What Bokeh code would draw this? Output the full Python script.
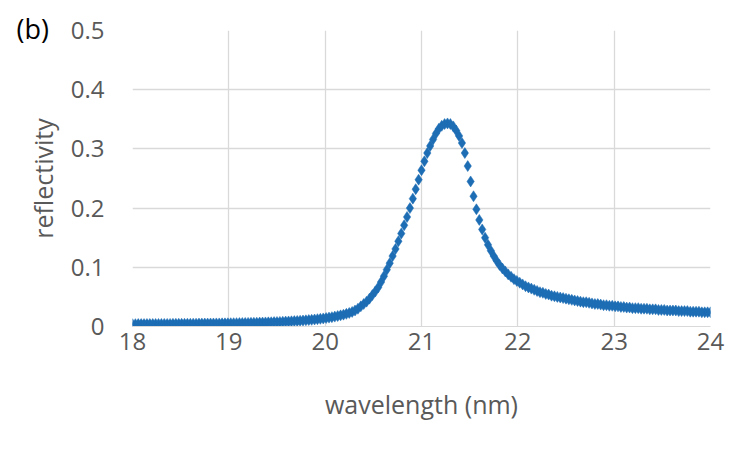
from bokeh.plotting import figure
from bokeh.models import ColumnDataSource, FixedTicker
from bokeh.embed import file_html
from bokeh.resources import INLINE

# wavelength samples (nm)
wavelength = [
    18.00, 18.03, 18.06, 18.09, 18.12, 18.15, 18.18, 18.21, 18.24, 18.27,
    18.30, 18.33, 18.36, 18.39, 18.42, 18.45, 18.48, 18.51, 18.54, 18.57,
    18.60, 18.63, 18.66, 18.69, 18.72, 18.75, 18.78, 18.81, 18.84, 18.87,
    18.90, 18.93, 18.96, 18.99, 19.02, 19.05, 19.08, 19.11, 19.14, 19.17,
    19.20, 19.23, 19.26, 19.29, 19.32, 19.35, 19.38, 19.41, 19.44, 19.47,
    19.50, 19.53, 19.56, 19.59, 19.62, 19.65, 19.68, 19.71, 19.74, 19.77,
    19.80, 19.83, 19.86, 19.89, 19.92, 19.95, 19.98, 20.01, 20.04, 20.07,
    20.10, 20.13, 20.16, 20.19, 20.22, 20.25, 20.28, 20.31, 20.34, 20.37,
    20.40, 20.43, 20.46, 20.49, 20.52, 20.55, 20.58, 20.61, 20.64, 20.67,
    20.70, 20.73, 20.76, 20.79, 20.82, 20.85, 20.88, 20.91, 20.94, 20.97,
    21.00, 21.03, 21.06, 21.09, 21.12, 21.15, 21.18, 21.21, 21.24, 21.27,
    21.30, 21.33, 21.36, 21.39, 21.42, 21.45, 21.48, 21.51, 21.54, 21.57,
    21.60, 21.63, 21.66, 21.69, 21.72, 21.75, 21.78, 21.81, 21.84, 21.87,
    21.90, 21.93, 21.96, 21.99, 22.02, 22.05, 22.08, 22.11, 22.14, 22.17,
    22.20, 22.23, 22.26, 22.29, 22.32, 22.35, 22.38, 22.41, 22.44, 22.47,
    22.50, 22.53, 22.56, 22.59, 22.62, 22.65, 22.68, 22.71, 22.74, 22.77,
    22.80, 22.83, 22.86, 22.89, 22.92, 22.95, 22.98, 23.01, 23.04, 23.07,
    23.10, 23.13, 23.16, 23.19, 23.22, 23.25, 23.28, 23.31, 23.34, 23.37,
    23.40, 23.43, 23.46, 23.49, 23.52, 23.55, 23.58, 23.61, 23.64, 23.67,
    23.70, 23.73, 23.76, 23.79, 23.82, 23.85, 23.88, 23.91, 23.94, 23.97,
    24.00,
]

# reflectivity
reflectivity = [
    0.0040, 0.0040, 0.0041, 0.0041, 0.0041, 0.0042, 0.0042, 0.0042, 0.0043, 0.0043,
    0.0043, 0.0044, 0.0044, 0.0044, 0.0045, 0.0045, 0.0046, 0.0046, 0.0046, 0.0047,
    0.0047, 0.0048, 0.0048, 0.0049, 0.0049, 0.0050, 0.0050, 0.0051, 0.0051, 0.0052,
    0.0052, 0.0053, 0.0054, 0.0054, 0.0055, 0.0056, 0.0057, 0.0058, 0.0059, 0.0060,
    0.0061, 0.0062, 0.0063, 0.0064, 0.0066, 0.0067, 0.0069, 0.0070, 0.0072, 0.0074,
    0.0076, 0.0078, 0.0080, 0.0083, 0.0085, 0.0088, 0.0091, 0.0094, 0.0097, 0.0101,
    0.0105, 0.0109, 0.0113, 0.0118, 0.0124, 0.0130, 0.0136, 0.0143, 0.0150, 0.0158,
    0.0167, 0.0177, 0.0188, 0.0200, 0.0214, 0.0229, 0.0246, 0.0270, 0.0300, 0.0340,
    0.038, 0.042, 0.047, 0.053, 0.059, 0.066, 0.075, 0.085, 0.096, 0.107,
    0.119, 0.131, 0.144, 0.157, 0.171, 0.185, 0.200, 0.216, 0.232, 0.248,
    0.264, 0.279, 0.293, 0.305, 0.316, 0.326, 0.334, 0.339, 0.342, 0.343,
    0.342, 0.338, 0.331, 0.322, 0.310, 0.293, 0.271, 0.245, 0.220, 0.198,
    0.180, 0.164, 0.150, 0.138, 0.128, 0.119, 0.111, 0.104, 0.098, 0.093,
    0.088, 0.084, 0.080, 0.077, 0.074, 0.071, 0.068, 0.066, 0.064, 0.062,
    0.060, 0.058, 0.057, 0.055, 0.054, 0.052, 0.051, 0.050, 0.049, 0.048,
    0.047, 0.046, 0.045, 0.044, 0.043, 0.042, 0.041, 0.041, 0.040, 0.039,
    0.038, 0.038, 0.037, 0.036, 0.036, 0.035, 0.035, 0.034, 0.034, 0.033,
    0.033, 0.032, 0.032, 0.031, 0.031, 0.031, 0.030, 0.030, 0.030, 0.029,
    0.029, 0.029, 0.028, 0.028, 0.028, 0.027, 0.027, 0.027, 0.027, 0.026,
    0.026, 0.026, 0.026, 0.025, 0.025, 0.025, 0.025, 0.024, 0.024, 0.024,
    0.024,
]

x_ticks = [18, 19, 20, 21, 22, 23, 24]
y_ticks = [0, 0.1, 0.2, 0.3, 0.4, 0.5]
y_tick_labels = ["0", "0.1", "0.2", "0.3", "0.4", "0.5"]
panel_tag = "(b)"

FONT = "Open Sans"
TICK_COLOR = "#595959"
GRID = "#d9d9d9"
BLUE = "#1c6db4"

p = figure(width=740, height=442, output_backend="svg", toolbar_location=None,
           x_range=(18, 24), y_range=(0, 0.5),
           min_border_left=132, min_border_right=30,
           min_border_top=30, min_border_bottom=116)
p.outline_line_color = None
p.background_fill_color = "white"
p.border_fill_color = "white"

src = ColumnDataSource(dict(x=wavelength, y=reflectivity))
p.scatter("x", "y", source=src, marker="diamond", size=11,
          fill_color=BLUE, line_color=BLUE, line_width=0.5)

p.xaxis.ticker = FixedTicker(ticks=x_ticks)
p.yaxis.ticker = FixedTicker(ticks=y_ticks)
p.yaxis.major_label_overrides = {t: l for t, l in zip(y_ticks, y_tick_labels)}

for ax in (p.xaxis, p.yaxis):
    ax.major_tick_line_color = None
    ax.minor_tick_line_color = None
    ax.major_label_text_font = FONT
    ax.major_label_text_font_size = "24px"
    ax.major_label_text_color = TICK_COLOR
    ax.axis_label_text_font = FONT
    ax.axis_label_text_font_size = "25px"
    ax.axis_label_text_color = TICK_COLOR
    ax.axis_label_text_font_style = "normal"

p.xaxis.axis_line_color = GRID
p.yaxis.axis_line_color = None
p.xaxis.axis_label = "wavelength (nm)"
p.yaxis.axis_label = "reflectivity"
p.xaxis.major_label_standoff = 0
p.yaxis.major_label_standoff = 22
p.xaxis.axis_label_standoff = 34
p.yaxis.axis_label_standoff = 8

p.xgrid.grid_line_color = GRID
p.ygrid.grid_line_color = GRID
p.xgrid.grid_line_width = 1.3
p.ygrid.grid_line_width = 1.3

# panel tag "(b)" drawn as the plot title, shifted to the top-left corner
p.title.text = panel_tag
p.title.align = "left"
p.title.offset = -116
p.title.standoff = -33
p.title.text_font = FONT
p.title.text_font_size = "27px"
p.title.text_font_style = "normal"
p.title.text_color = "black"

open("out.html", "w").write(file_html(p, INLINE))
